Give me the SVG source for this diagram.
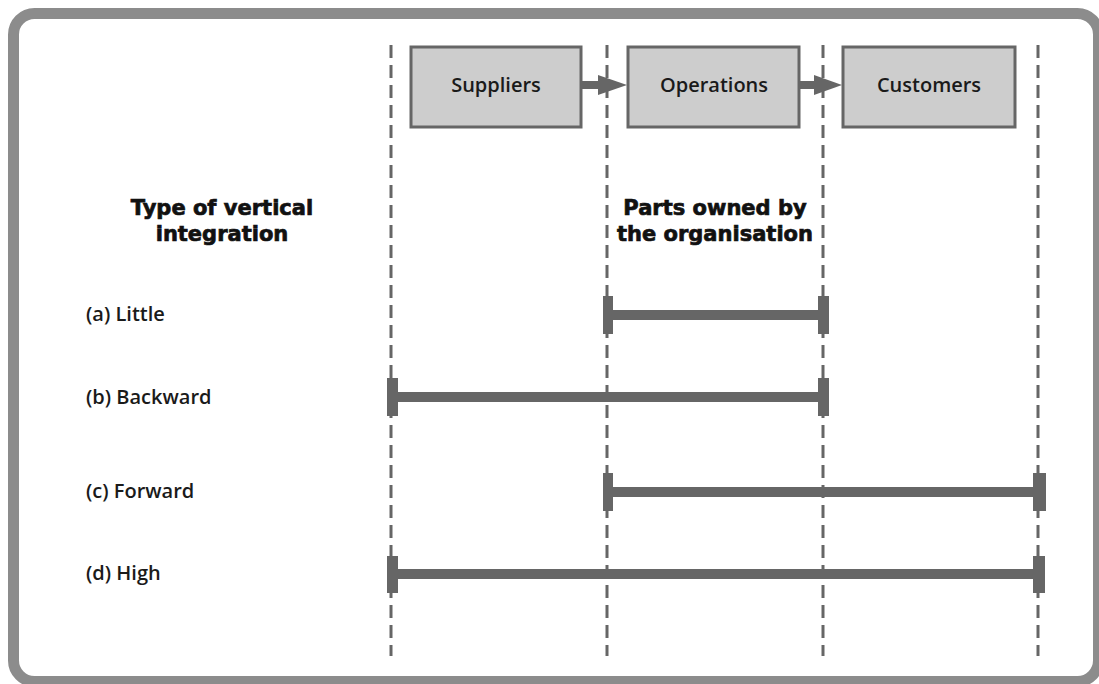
<svg xmlns="http://www.w3.org/2000/svg" width="1099" height="684" viewBox="0 0 1099 684">
  <defs>
    <style>
      .frame { fill: #ffffff; stroke: #8c8c8c; stroke-width: 11; }
      .guide { stroke: #666666; stroke-width: 3; stroke-dasharray: 13 7; fill: none; }
      .box { fill: #cdcdcd; stroke: #666666; stroke-width: 3; }
      .flow { stroke: #666666; stroke-width: 8; fill: none; }
      .head { fill: #666666; }
      .bar { stroke: #666666; stroke-width: 10; fill: none; }
      .cap { fill: #666666; }
      .boxtext { font-family: "Open Sans", "Liberation Sans", sans-serif; font-weight: 600; font-size: 20px; fill: #1a1a1a; text-anchor: middle; }
      .heading { font-family: "DejaVu Sans", "Liberation Sans", sans-serif; font-weight: bold; font-size: 21px; fill: #111111; stroke: #111111; stroke-width: 0.7; text-anchor: middle; }
      .rowlabel { font-family: "Open Sans", "Liberation Sans", sans-serif; font-weight: 600; font-size: 20px; fill: #1a1a1a; }
    </style>
  </defs>

  <!-- outer frame -->
  <rect class="frame" x="13.5" y="13.5" width="1085" height="668" rx="21" ry="21"/>

  <!-- vertical dashed guides at the stage boundaries -->
  <g id="guides">
    <line class="guide" x1="391" y1="45" x2="391" y2="656"/>
    <line class="guide" x1="607" y1="45" x2="607" y2="656"/>
    <line class="guide" x1="823" y1="45" x2="823" y2="656"/>
    <line class="guide" x1="1038" y1="45" x2="1038" y2="656"/>
  </g>

  <!-- supply chain stages -->
  <g id="suppliers">
    <rect class="box" x="411" y="47" width="170" height="80"/>
    <text class="boxtext" x="496" y="92">Suppliers</text>
  </g>
  <g id="operations">
    <rect class="box" x="628" y="47" width="171" height="80"/>
    <text class="boxtext" x="714" y="92">Operations</text>
  </g>
  <g id="customers">
    <rect class="box" x="843" y="47" width="172" height="80"/>
    <text class="boxtext" x="929" y="92">Customers</text>
  </g>

  <!-- connectors between stages -->
  <g id="connectors">
    <line class="flow" x1="582" y1="85" x2="600" y2="85"/>
    <polygon class="head" points="598,75 627,85 598,95"/>
    <line class="flow" x1="800" y1="85" x2="816" y2="85"/>
    <polygon class="head" points="814,75 842,85 814,95"/>
  </g>

  <!-- column headings -->
  <g id="heading-type">
    <text class="heading" x="222" y="215">Type of vertical</text>
    <text class="heading" x="222" y="241">integration</text>
  </g>
  <g id="heading-owned">
    <text class="heading" x="715" y="215">Parts owned by</text>
    <text class="heading" x="715" y="241">the organisation</text>
  </g>

  <!-- (a) little integration -->
  <g id="row-a">
    <text class="rowlabel" x="86" y="321">(a) Little</text>
    <line class="bar" x1="608" y1="315" x2="823" y2="315"/>
    <rect class="cap" x="603" y="296" width="10" height="38"/>
    <rect class="cap" x="818" y="296" width="11" height="38"/>
  </g>

  <!-- (b) backward integration -->
  <g id="row-b">
    <text class="rowlabel" x="86" y="404">(b) Backward</text>
    <line class="bar" x1="392" y1="397" x2="823" y2="397"/>
    <rect class="cap" x="387" y="378" width="11" height="38"/>
    <rect class="cap" x="818" y="378" width="11" height="38"/>
  </g>

  <!-- (c) forward integration -->
  <g id="row-c">
    <text class="rowlabel" x="86" y="498">(c) Forward</text>
    <line class="bar" x1="608" y1="492" x2="1040" y2="492"/>
    <rect class="cap" x="603" y="473" width="10" height="38"/>
    <rect class="cap" x="1033" y="473" width="13" height="38"/>
  </g>

  <!-- (d) high integration -->
  <g id="row-d">
    <text class="rowlabel" x="86" y="580">(d) High</text>
    <line class="bar" x1="392" y1="574" x2="1040" y2="574"/>
    <rect class="cap" x="387" y="556" width="11" height="37"/>
    <rect class="cap" x="1033" y="556" width="12" height="37"/>
  </g>
</svg>
